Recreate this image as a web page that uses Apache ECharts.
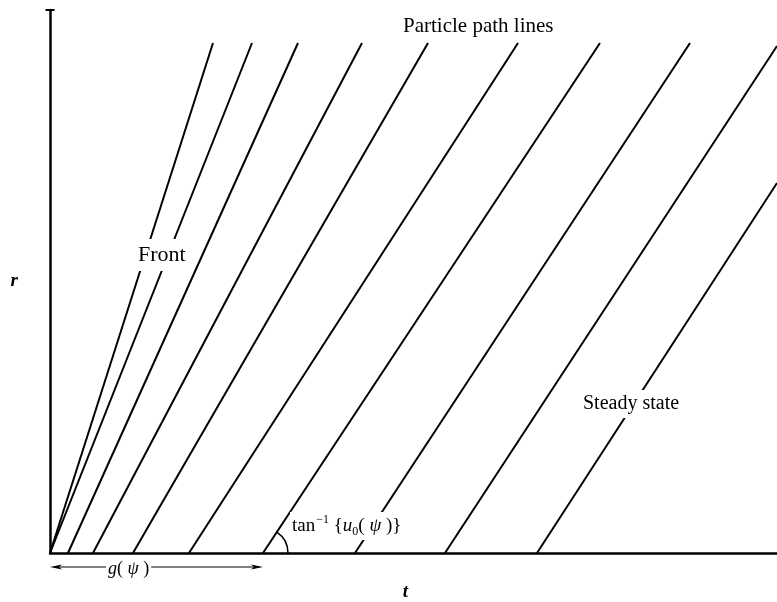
<!DOCTYPE html>
<html>
<head>
<meta charset="utf-8">
<script src="https://cdn.jsdelivr.net/npm/echarts@6/dist/echarts.min.js"></script>
<style>
  html, body { margin: 0; padding: 0; background: #fff; }
  #chart { width: 777px; height: 602px; }
</style>
</head>
<body>
<div id="chart"></div>
<script>
// particle paths: foot of each line on the t axis, and where it leaves the picture
const footT = [0, 0, 18, 43, 83, 139, 213, 305, 395, 487];
const endT = [163, 202, 248, 312, 378, 468, 550, 640, 727, 727];
const endR = [510, 510, 510, 510, 510, 510, 510, 510, 507, 370];
const gIndex = 6; // the path whose foot marks g(psi)
const gArrowR = -14;

const serif = "'Liberation Serif', 'DejaVu Serif', serif";

let chart = echarts.init(document.getElementById("chart"));

let seriesInfo = () => {
  let s = [];
  for (let i = 0; i < footT.length; i++) {
    s.push({
      type: "line",
      silent: true,
      showSymbol: false,
      clip: false,
      lineStyle: { color: "#000", width: 2 },
      data: [[footT[i], 0], [endT[i], endR[i]]],
      z: 2,
    });
  }
  // angle arc at the foot of the g(psi) path
  s.push({
    type: "custom",
    silent: true,
    data: [[footT[gIndex], 0, endT[gIndex], endR[gIndex]]],
    renderItem: function (params, api) {
      let p0 = api.coord([api.value(0), api.value(1)]);
      let p1 = api.coord([api.value(2), api.value(3)]);
      let ang = Math.atan2(p1[1] - p0[1], p1[0] - p0[0]);
      return {
        type: "arc",
        shape: { cx: p0[0], cy: p0[1], r: 25, startAngle: ang, endAngle: 0, clockwise: true },
        style: { stroke: "#000", fill: null, lineWidth: 1.6 },
      };
    },
    z: 3,
  });
  // double arrow for g(psi)
  s.push({
    type: "custom",
    silent: true,
    data: [[0, footT[gIndex], gArrowR]],
    renderItem: function (params, api) {
      let a = api.coord([api.value(0), api.value(2)]);
      let b = api.coord([api.value(1), api.value(2)]);
      return {
        type: "group",
        children: [
          { type: "line", shape: { x1: a[0] + 4, y1: a[1], x2: b[0] - 4, y2: b[1] }, style: { stroke: "#000", lineWidth: 1.2 } },
          { type: "polygon", shape: { points: [[a[0], a[1]], [a[0] + 12, a[1] - 2.5], [a[0] + 9, a[1]], [a[0] + 12, a[1] + 2.5]] }, style: { fill: "#000" } },
          { type: "polygon", shape: { points: [[b[0], b[1]], [b[0] - 12, b[1] - 2.5], [b[0] - 9, b[1]], [b[0] - 12, b[1] + 2.5]] }, style: { fill: "#000" } },
        ],
      };
    },
    z: 3,
  });
  return s;
};

let option = {
  animation: false,
  backgroundColor: "#fff",
  grid: { left: 50, right: 0, top: 10, bottom: 49, containLabel: false, outerBoundsMode: "none" },
  xAxis: {
    type: "value",
    min: 0,
    max: 727,
    name: "t",
    nameLocation: "middle",
    nameGap: 30,
    nameTextStyle: { fontFamily: serif, fontStyle: "italic", fontWeight: "bold", fontSize: 19, color: "#000", padding: [0, 16, 0, 0] },
    axisLine: { lineStyle: { color: "#000", width: 2.5 } },
    axisTick: { show: false },
    axisLabel: { show: false },
    splitLine: { show: false },
  },
  yAxis: {
    type: "value",
    min: 0,
    max: 543,
    name: "r",
    nameLocation: "middle",
    nameRotate: 0,
    nameGap: 32,
    nameTextStyle: { fontFamily: serif, fontStyle: "italic", fontWeight: "bold", fontSize: 19, color: "#000" },
    axisLine: { lineStyle: { color: "#000", width: 2.5 }, symbol: ["none", "rect"], symbolSize: [9, 2] },
    axisTick: { show: false },
    axisLabel: { show: false },
    splitLine: { show: false },
  },
  graphic: [
    {
      type: "text", z: 100, left: 403, top: 16,
      style: { text: "Particle path lines", font: "21px " + serif, fill: "#000" },
    },
    {
      type: "text", z: 100, left: 135, top: 239,
      style: { text: "Front", font: "22px " + serif, fill: "#000", backgroundColor: "#fff", padding: [5, 3, 5, 3] },
    },
    {
      type: "text", z: 100, left: 580, top: 390,
      style: { text: "Steady state", font: "20px " + serif, fill: "#000", backgroundColor: "#fff", padding: [4, 3, 4, 3] },
    },
    {
      type: "text", z: 100, left: 106, top: 560,
      style: {
        text: "{i|g}( {i|ψ} )",
        font: "18px " + serif, fill: "#000", backgroundColor: "#fff", padding: [0, 2, 0, 2],
        rich: { i: { fontFamily: serif, fontStyle: "italic", fontSize: 18 } },
      },
    },
    {
      type: "text", z: 100, left: 290, top: 512,
      style: {
        text: "tan{sup|−1} {{i|u}{sub|0}( {i|ψ} )}",
        font: "19px " + serif, fill: "#000", backgroundColor: "#fff", padding: [2, 2, 2, 2],
        rich: {
          i: { fontFamily: serif, fontStyle: "italic", fontSize: 19, lineHeight: 24 },
          sup: { fontFamily: serif, fontSize: 12, verticalAlign: "top", lineHeight: 24, padding: [0, 0, 10, 1] },
          sub: { fontFamily: serif, fontSize: 12, verticalAlign: "bottom", lineHeight: 24, padding: [8, 0, 0, 0] },
        },
      },
    },
  ],
  series: seriesInfo(),
};
chart.setOption(option);
</script>
</body>
</html>
